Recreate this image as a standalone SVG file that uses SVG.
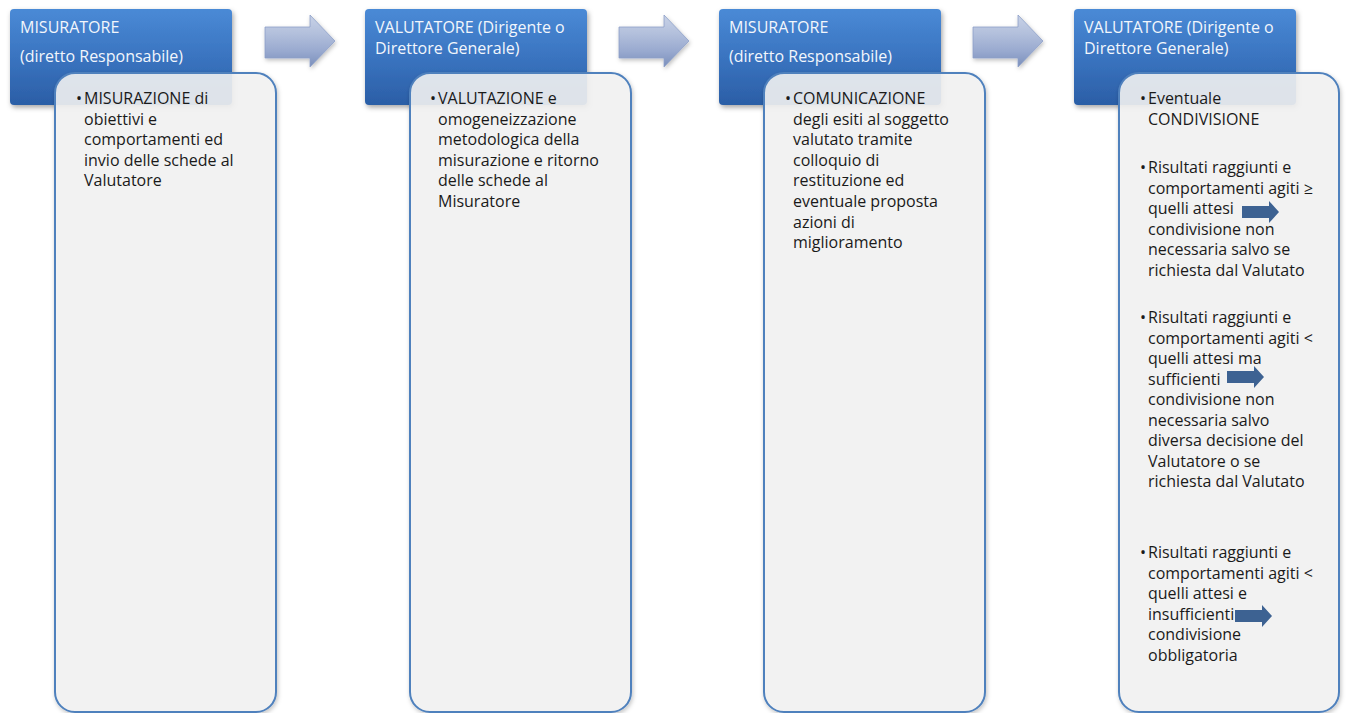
<svg xmlns="http://www.w3.org/2000/svg" width="1346" height="713" viewBox="0 0 1346 713">
<defs>
<linearGradient id="gBlue" x1="0" y1="0" x2="0" y2="1">
<stop offset="0" stop-color="#4a8ad6"/>
<stop offset="0.5" stop-color="#3a74c0"/>
<stop offset="1" stop-color="#2b5ea6"/>
</linearGradient>
<linearGradient id="gArrow" x1="0" y1="0" x2="0" y2="1">
<stop offset="0" stop-color="#c8d2e7"/>
<stop offset="0.35" stop-color="#b3c0dc"/>
<stop offset="0.7" stop-color="#98a9cf"/>
<stop offset="1" stop-color="#7a8fbb"/>
</linearGradient>
<filter id="sh" x="-10%" y="-10%" width="125%" height="125%">
<feDropShadow dx="1.5" dy="2.5" stdDeviation="2.5" flood-color="#000" flood-opacity="0.35"/>
</filter>
<filter id="sh2" x="-10%" y="-10%" width="125%" height="125%">
<feDropShadow dx="1" dy="2" stdDeviation="2" flood-color="#000" flood-opacity="0.25"/>
</filter>
<polygon id="bigArrow" points="0,12 45,12 45,0 70,26 45,52 45,43 0,43"/>
<polygon id="smallArrow" points="0,-6 27,-6 27,-11 37,0 27,11 27,6 0,6"/>
</defs>
<style>
.hdr{fill:url(#gBlue);filter:url(#sh)}
.card{fill:#f4f4f4;fill-opacity:0.88;stroke:#4f81bd;stroke-width:2;filter:url(#sh2)}
.ht{font-family:"Open Sans","Noto Sans",sans-serif;font-size:16px;fill:#f2f6fc}
.ct{font-family:"Open Sans","Noto Sans",sans-serif;font-size:16px;fill:#1a1a1a}
.arr{fill:url(#gArrow);stroke:#8d9fc8;stroke-width:0.8;filter:url(#sh2)}
.sarr{fill:#3d6292}
</style>
<rect width="1346" height="713" fill="#ffffff"/>

<g id="connectors">
<use href="#bigArrow" class="arr" x="265" y="15"/>
<use href="#bigArrow" class="arr" x="619" y="15"/>
<use href="#bigArrow" class="arr" x="973" y="15"/>
</g>

<g id="node1">
<rect class="hdr" x="10" y="9" width="222" height="96" rx="4"/>
<text class="ht" x="20" y="33">MISURATORE</text>
<text class="ht" x="20" y="62">(diretto Responsabile)</text>
<rect class="card" x="55" y="73" width="221" height="639" rx="20"/>
<text class="ct" x="76" y="104">•</text>
<text class="ct" x="84" y="104">MISURAZIONE di</text>
<text class="ct" x="84" y="124.6">obiettivi e</text>
<text class="ct" x="84" y="145.2">comportamenti ed</text>
<text class="ct" x="84" y="165.8">invio delle schede al</text>
<text class="ct" x="84" y="186.4">Valutatore</text>
</g>

<g id="node2">
<rect class="hdr" x="365" y="9" width="222" height="96" rx="4"/>
<text class="ht" x="375" y="33">VALUTATORE (Dirigente o</text>
<text class="ht" x="375" y="54">Direttore Generale)</text>
<rect class="card" x="410" y="73" width="221" height="639" rx="20"/>
<text class="ct" x="430" y="104">•</text>
<text class="ct" x="438" y="104">VALUTAZIONE e</text>
<text class="ct" x="438" y="124.6">omogeneizzazione</text>
<text class="ct" x="438" y="145.2">metodologica della</text>
<text class="ct" x="438" y="165.8">misurazione e ritorno</text>
<text class="ct" x="438" y="186.4">delle schede al</text>
<text class="ct" x="438" y="207">Misuratore</text>
</g>

<g id="node3">
<rect class="hdr" x="719" y="9" width="222" height="96" rx="4"/>
<text class="ht" x="729" y="33">MISURATORE</text>
<text class="ht" x="729" y="62">(diretto Responsabile)</text>
<rect class="card" x="764" y="73" width="221" height="639" rx="20"/>
<text class="ct" x="785" y="104">•</text>
<text class="ct" x="793" y="104">COMUNICAZIONE</text>
<text class="ct" x="793" y="124.6">degli esiti al soggetto</text>
<text class="ct" x="793" y="145.2">valutato tramite</text>
<text class="ct" x="793" y="165.8">colloquio di</text>
<text class="ct" x="793" y="186.4">restituzione ed</text>
<text class="ct" x="793" y="207">eventuale proposta</text>
<text class="ct" x="793" y="227.6">azioni di</text>
<text class="ct" x="793" y="248.2">miglioramento</text>
</g>

<g id="node4">
<rect class="hdr" x="1074" y="9" width="222" height="96" rx="4"/>
<text class="ht" x="1084" y="33">VALUTATORE (Dirigente o</text>
<text class="ht" x="1084" y="54">Direttore Generale)</text>
<rect class="card" x="1119" y="73" width="220" height="639" rx="20"/>
<text class="ct" x="1140" y="104">•</text>
<text class="ct" x="1148" y="104">Eventuale</text>
<text class="ct" x="1148" y="124.6">CONDIVISIONE</text>
<text class="ct" x="1140" y="173">•</text>
<text class="ct" x="1148" y="173">Risultati raggiunti e</text>
<text class="ct" x="1148" y="193.6">comportamenti agiti ≥</text>
<text class="ct" x="1148" y="214.2">quelli attesi</text>
<text class="ct" x="1148" y="234.8">condivisione non</text>
<text class="ct" x="1148" y="255.4">necessaria salvo se</text>
<text class="ct" x="1148" y="276">richiesta dal Valutato</text>
<use href="#smallArrow" class="sarr" x="1242" y="212"/>
<text class="ct" x="1140" y="323">•</text>
<text class="ct" x="1148" y="323">Risultati raggiunti e</text>
<text class="ct" x="1148" y="343.5">comportamenti agiti &lt;</text>
<text class="ct" x="1148" y="364">quelli attesi ma</text>
<text class="ct" x="1148" y="384.5">sufficienti</text>
<text class="ct" x="1148" y="405">condivisione non</text>
<text class="ct" x="1148" y="425.5">necessaria salvo</text>
<text class="ct" x="1148" y="446">diversa decisione del</text>
<text class="ct" x="1148" y="466.5">Valutatore o se</text>
<text class="ct" x="1148" y="487">richiesta dal Valutato</text>
<use href="#smallArrow" class="sarr" x="1227" y="377"/>
<text class="ct" x="1140" y="558">•</text>
<text class="ct" x="1148" y="558">Risultati raggiunti e</text>
<text class="ct" x="1148" y="578.5">comportamenti agiti &lt;</text>
<text class="ct" x="1148" y="599">quelli attesi e</text>
<text class="ct" x="1148" y="619.5">insufficienti</text>
<text class="ct" x="1148" y="640">condivisione</text>
<text class="ct" x="1148" y="660.5">obbligatoria</text>
<use href="#smallArrow" class="sarr" x="1235" y="616"/>
</g>
</svg>
